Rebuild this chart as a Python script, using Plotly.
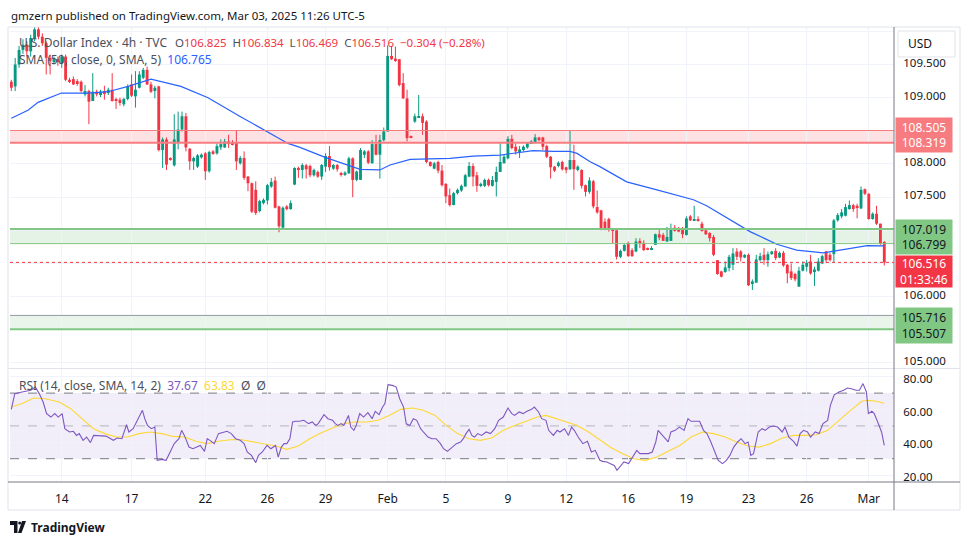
import plotly.graph_objects as go

# ---------------- data ----------------
opens = [109.24,109.17,109.50,109.72,109.80,109.70,109.90,110.03,109.92,109.82,
         109.60,109.55,109.58,109.52,109.62,109.27,109.28,109.25,109.24,109.05,
         109.10,108.95,109.09,109.04,109.10,109.07,109.12,108.98,108.97,108.90,
         108.98,109.20,109.02,109.15,109.30,109.42,109.20,109.10,109.17,108.21,
         108.37,108.09,107.98,108.32,108.52,108.72,108.23,108.04,107.96,108.10,
         108.16,107.89,108.19,108.16,108.25,108.25,108.34,108.33,108.33,108.01,
         108.09,107.81,107.71,107.61,107.29,107.41,107.45,107.66,107.75,107.36,
         107.04,107.36,107.32,107.69,107.94,107.91,107.98,107.97,107.83,107.88,
         107.81,107.96,108.12,107.93,107.985,107.86,107.835,107.86,108.085,107.76,
         107.76,108.14,108.19,108.01,108.30,108.14,108.36,108.49,109.63,109.59,
         109.58,109.22,108.99,108.42,108.64,108.70,108.72,108.64,108.03,107.93,
         108.03,107.90,107.70,107.53,107.38,107.56,107.60,107.66,107.81,107.97,
         107.83,107.67,107.67,107.76,107.67,107.73,107.88,108.01,108.085,108.38,
         108.26,108.19,108.21,108.25,108.31,108.32,108.40,108.40,108.27,108.11,
         107.96,107.97,108.03,107.95,107.92,108.06,107.91,107.91,107.68,107.58,
         107.74,107.35,107.30,107.13,107.17,107.01,107.00,106.60,106.69,106.81,
         106.70,106.68,106.84,106.81,106.73,106.71,106.78,106.94,106.93,106.83,
         106.84,107.04,107.03,107.01,106.93,107.21,107.15,107.16,107.10,107.00,
         106.96,106.90,106.55,106.38,106.37,106.43,106.48,106.68,106.68,106.59,
         106.63,106.19,106.21,106.55,106.63,106.55,106.64,106.69,106.59,106.66,
         106.48,106.38,106.34,106.15,106.39,106.45,106.53,106.37,106.39,106.50,
         106.68,106.63,106.64,107.15,107.21,107.22,107.32,107.38,107.37,107.33,
         107.62,107.55,107.17,107.25,107.10,106.825]
highs = [109.27,109.60,109.78,109.88,109.85,109.95,110.08,110.10,109.97,109.85,
         109.65,109.62,109.62,109.65,109.65,109.30,109.32,109.28,109.26,109.19,
         109.12,109.37,109.12,109.12,109.18,109.15,109.37,109.00,109.00,109.00,
         109.20,109.35,109.40,109.40,109.45,109.47,109.24,109.18,109.18,108.40,
         108.40,108.10,108.75,108.79,108.79,108.77,108.24,108.11,108.15,108.16,
         108.18,108.20,108.21,108.31,108.37,108.38,108.44,108.36,108.50,108.12,
         108.19,107.82,107.72,107.74,107.46,107.48,107.70,107.79,107.81,107.37,
         107.36,107.38,107.45,107.95,107.96,108.01,108.00,107.99,107.93,107.90,
         108.00,108.16,108.27,108.00,108.00,107.88,107.89,108.11,108.10,107.90,
         108.24,108.21,108.21,108.36,108.44,108.44,108.55,109.79,109.78,109.77,
         109.58,109.37,109.12,108.43,108.76,109.04,108.76,108.66,108.04,108.03,
         108.05,107.985,107.71,107.63,107.58,107.63,107.69,107.85,108.03,108.01,
         107.88,107.72,107.78,107.78,107.82,107.96,108.31,108.14,108.42,108.44,
         108.31,108.27,108.28,108.33,108.36,108.45,108.41,108.41,108.29,108.12,
         107.97,108.04,108.05,107.96,108.51,108.29,107.98,107.92,107.69,107.80,
         107.76,107.60,107.31,107.18,107.19,107.03,107.00,106.71,106.79,106.83,
         106.73,106.88,106.88,106.85,106.74,106.76,106.95,107.03,106.96,107.05,
         107.10,107.08,107.05,107.05,107.21,107.23,107.37,107.21,107.13,107.03,
         106.97,106.93,106.55,106.39,106.53,106.63,106.73,106.73,106.70,106.64,
         106.65,106.26,106.63,106.66,106.73,106.68,106.69,106.73,106.68,106.69,
         106.49,106.50,106.36,106.45,106.53,106.55,106.63,106.45,106.58,106.63,
         106.69,106.66,107.17,107.26,107.32,107.40,107.45,107.40,107.40,107.66,
         107.63,107.56,107.27,107.37,107.10,106.834]
lows = [109.10,109.10,109.45,109.66,109.62,109.62,109.85,109.88,109.78,109.35,
        109.35,109.50,109.48,109.45,109.25,109.22,109.19,109.18,109.08,109.02,
        108.60,108.95,109.02,109.01,108.97,109.04,108.94,108.83,108.88,108.87,
        108.96,109.01,108.85,109.14,109.28,109.19,109.07,108.99,108.19,107.94,
        107.91,108.05,107.96,108.22,108.49,108.19,107.91,107.91,107.94,108.08,
        107.76,107.87,108.14,108.14,108.21,108.24,108.24,108.28,107.91,107.99,
        107.76,107.59,107.26,107.23,107.27,107.39,107.39,107.64,107.33,106.97,
        107.02,107.30,107.31,107.68,107.79,107.78,107.78,107.80,107.81,107.79,
        107.76,107.88,107.90,107.91,107.885,107.81,107.82,107.85,107.50,107.74,
        107.76,108.09,108.00,108.01,108.13,107.78,108.34,108.49,109.57,109.54,
        109.17,108.98,108.34,108.39,108.62,108.70,108.44,108.01,107.96,107.92,
        107.86,107.66,107.41,107.36,107.38,107.54,107.58,107.66,107.80,107.66,
        107.58,107.65,107.65,107.66,107.66,107.51,107.88,108.01,108.07,108.22,
        108.14,108.09,108.19,108.23,108.30,108.31,108.34,108.21,108.09,107.78,
        107.88,107.95,107.90,107.86,107.91,107.61,107.89,107.63,107.51,107.55,
        107.33,107.25,107.00,107.00,106.98,106.80,106.56,106.58,106.68,106.60,
        106.60,106.67,106.73,106.69,106.70,106.70,106.78,106.85,106.84,106.83,
        106.84,106.98,106.97,106.88,106.92,107.14,107.14,107.13,106.98,106.93,
        106.83,106.61,106.33,106.29,106.36,106.38,106.40,106.55,106.53,106.58,
        106.16,106.10,106.21,106.53,106.48,106.45,106.63,106.55,106.58,106.45,
        106.20,106.25,106.23,106.15,106.38,106.38,106.33,106.16,106.38,106.49,
        106.51,106.53,106.51,107.13,107.18,107.21,107.31,107.28,107.18,107.32,
        107.53,107.16,107.16,107.08,106.78,106.469]
closes = [109.15,109.50,109.72,109.80,109.70,109.90,110.03,109.92,109.82,109.60,
          109.55,109.58,109.55,109.62,109.27,109.25,109.20,109.22,109.10,109.10,
          108.94,109.09,109.05,109.09,109.07,109.12,108.95,108.95,108.92,108.98,
          109.17,109.03,109.12,109.35,109.42,109.20,109.09,109.15,108.21,108.37,
          107.99,108.07,108.37,108.52,108.72,108.25,108.04,108.09,108.13,108.14,
          107.89,108.18,108.16,108.27,108.30,108.34,108.30,108.30,108.04,108.09,
          107.79,107.71,107.28,107.26,107.44,107.46,107.68,107.73,107.34,107.06,
          107.34,107.32,107.41,107.94,107.91,107.985,107.92,107.83,107.91,107.81,
          107.985,108.12,107.95,107.985,107.92,107.835,107.87,108.085,107.76,107.885,
          108.21,108.19,108.02,108.30,108.14,108.36,108.49,109.63,109.58,109.56,
          109.19,108.99,108.39,108.40,108.72,108.72,108.62,108.03,107.97,108.01,
          107.90,107.68,107.51,107.38,107.56,107.61,107.67,107.83,107.97,107.81,
          107.67,107.70,107.76,107.68,107.76,107.88,108.03,108.11,108.38,108.24,
          108.19,108.22,108.26,108.31,108.34,108.40,108.36,108.26,108.11,107.95,
          107.90,108.02,107.92,107.92,108.06,107.92,107.96,107.67,107.58,107.75,
          107.36,107.27,107.03,107.03,107.01,106.99,106.60,106.69,106.78,106.61,
          106.61,106.83,106.80,106.70,106.71,106.73,106.94,106.89,106.84,106.90,
          107.03,106.99,106.98,106.94,107.18,107.15,107.16,107.14,106.99,106.94,
          106.88,106.63,106.34,106.30,106.44,106.60,106.65,106.60,106.59,106.63,
          106.17,106.23,106.56,106.61,106.55,106.64,106.68,106.58,106.66,106.47,
          106.35,106.28,106.26,106.39,106.48,106.51,106.35,106.41,106.53,106.61,
          106.55,106.55,107.15,107.23,107.27,107.35,107.38,107.32,107.35,107.61,
          107.55,107.17,107.25,107.10,106.80,106.516]

tick_idx = [13, 31, 50, 66, 81, 97, 112, 128, 143, 159, 174, 190, 205, 221]
tick_text = ["14", "17", "22", "26", "29", "Feb", "5", "9", "12", "16", "19", "23", "26", "Mar"]

sma_x = [0, 4.3, 6.9, 12.9, 19.8, 24.9, 30.1, 36, 43.7, 50.7, 59.2, 65.4, 71.3, 74.4, 80.9,
         89.9, 95, 97.6, 102.8, 113.1, 119, 126, 134.5, 139.6, 144, 145.8, 149.2, 151.7,
         158.6, 166.4, 175.8, 179.2, 185.2, 190.4, 197.3, 202.4, 209.3, 216.2, 220.6, 225]
sma_y = [108.69, 108.81, 108.93, 109.07, 109.07, 109.09, 109.17, 109.28, 109.17, 109.0,
         108.71, 108.50, 108.31, 108.25, 108.10, 107.92, 107.91, 107.985, 108.07, 108.085,
         108.12, 108.135, 108.20, 108.19, 108.19, 108.16, 108.035, 107.96, 107.73, 107.61,
         107.46, 107.37, 107.16, 106.98, 106.79, 106.70, 106.66, 106.73, 106.77, 106.765]

rsi_x = [0, 0.9, 2.8, 5.0, 6.2, 7.2, 8.2, 9.1, 10.2, 11.2, 12.1, 13.1, 13.8, 15.0, 16.0, 16.8,
         17.5, 18.5, 19.4, 20.4, 21.2, 22.3, 23.4, 24.4, 25.3, 26.3, 27.3, 28.5, 29.7, 30.3,
         31.4, 32.6, 33.8, 34.4, 35.1, 36.1, 37.0, 37.6, 38.8, 39.9, 41.0, 42.0, 43.2, 43.9,
         44.6, 45.8, 46.8, 47.9, 48.7, 49.8, 50.5, 51.2, 52.3, 53.4, 54.6, 55.6, 56.7, 57.8,
         59.0, 60.0, 60.8, 61.9, 63.0, 63.7, 64.7, 65.9, 66.9, 68.1, 68.8, 69.6, 70.3, 71.0,
         71.8, 72.5, 73.2, 74.3, 75.4, 76.6, 77.6, 78.4, 79.1, 80.6, 81.6, 82.8, 83.5, 84.2,
         85.0, 85.7, 86.9, 87.5, 88.3, 88.9, 89.8, 90.8, 91.9, 93.0, 93.8, 94.8, 95.7, 96.3,
         97.1, 98.2, 99.2, 100.1, 101.1, 101.8, 102.7, 103.6, 104.5, 105.5, 106.2, 107.4,
         108.4, 109.5, 110.6, 111.4, 112.4, 113.6, 114.7, 115.8, 116.5, 117.2, 118.0, 118.7,
         119.4, 120.2, 121.2, 122.4, 123.5, 124.6, 125.6, 126.8, 128.0, 129.0, 129.7, 130.9,
         131.9, 132.9, 134.1, 134.8, 135.9, 136.7, 137.8, 138.5, 139.7, 140.7, 141.4, 142.6,
         143.6, 144.4, 145.1, 146.1, 147.3, 148.5, 149.5, 150.5, 151.7, 152.4, 153.5, 154.4,
         155.4, 156.1, 156.9, 157.9, 159.1, 160.2, 161.2, 162.0, 163.2, 164.2, 165.2, 166.1,
         166.7, 167.5, 168.6, 169.3, 170.0, 171.1, 172.2, 173.4, 174.4, 175.2, 176.6, 177.4,
         178.4, 179.3, 180.3, 181.3, 182.2, 183.3, 184.3, 185.2, 186.2, 187.2, 188.1, 189.1,
         189.9, 190.6, 191.3, 192.5, 193.5, 194.3, 195.4, 196.5, 197.5, 198.7, 199.4, 200.4,
         201.6, 202.5, 203.3, 204.2, 205.2, 206.0, 207.2, 208.2, 209.2, 210.4, 211.1, 212.1,
         213.3, 214.5, 215.5, 216.5, 217.7, 218.6, 219.5, 220.4, 220.9, 221.8, 222.4, 223.3,
         224.3, 225.0]
rsi_y = [60.1, 69.7, 70.7, 71.7, 73.7, 69.7, 64.6, 57.5, 55.4, 57.5, 55.4, 57.5, 48.3, 46.3,
         46.7, 44.2, 45.3, 41.2, 43.2, 39.8, 44.2, 44.2, 44.2, 43.8, 42.6, 41.2, 42.6, 42.2,
         50.7, 46.3, 48.3, 54.4, 59.5, 54.4, 50.3, 48.3, 49.3, 29.0, 29.6, 29.0, 34.1, 39.2,
         42.2, 47.3, 44.2, 37.1, 36.1, 37.1, 38.1, 34.5, 42.2, 41.2, 39.2, 45.3, 46.3, 46.7,
         45.3, 42.2, 41.2, 39.2, 34.1, 32.0, 27.6, 32.0, 34.1, 38.1, 36.1, 38.1, 31.0, 37.1,
         39.2, 39.2, 42.2, 52.4, 52.8, 52.8, 53.4, 51.4, 52.4, 50.3, 51.4, 56.9, 54.4, 53.4,
         51.4, 50.3, 51.4, 50.3, 56.4, 49.3, 47.3, 50.3, 57.5, 55.4, 58.1, 54.4, 58.9, 56.9,
         61.5, 63.6, 75.1, 74.7, 73.7, 66.6, 61.5, 51.3, 50.3, 54.4, 53.4, 48.3, 46.3, 43.2,
         42.2, 42.2, 39.2, 36.1, 34.5, 37.1, 39.2, 40.2, 42.2, 45.3, 47.9, 44.2, 43.2, 45.3,
         44.2, 46.3, 45.3, 48.3, 53.4, 55.4, 60.9, 57.5, 56.4, 58.5, 57.5, 58.9, 60.1, 61.5,
         58.5, 54.4, 53.4, 47.3, 44.2, 47.3, 46.3, 48.3, 44.2, 49.3, 47.3, 43.2, 39.2, 40.6,
         34.1, 35.1, 29.0, 28.4, 28.0, 27.0, 25.9, 22.9, 24.9, 28.0, 27.0, 31.0, 35.1, 33.1,
         33.1, 33.1, 34.1, 40.2, 47.3, 45.3, 42.2, 40.2, 46.3, 47.3, 49.3, 47.3, 54.4, 52.8,
         52.8, 52.8, 47.3, 45.3, 40.2, 34.1, 29.0, 27.0, 29.0, 32.0, 37.1, 40.2, 42.2, 39.2,
         40.2, 32.0, 33.1, 46.3, 48.3, 47.3, 49.3, 49.9, 49.3, 46.3, 49.3, 43.2, 40.6, 37.7,
         45.3, 47.3, 46.3, 43.2, 46.3, 45.3, 51.4, 53.4, 62.5, 69.0, 70.7, 71.7, 73.1, 72.7,
         71.7, 71.7, 75.8, 70.7, 57.5, 58.9, 57.5, 52.4, 46.3, 38.1]

rsima_x = [0, 2.8, 5.75, 8.7, 12.35, 15.3, 18.2, 21.2, 24.1, 27.0, 30.0, 32.9, 35.8, 38.8,
           41.7, 44.6, 47.6, 50.5, 53.4, 56.4, 59.3, 62.2, 65.2, 68.1, 71.0, 74.0, 76.9,
           79.8, 82.8, 85.7, 88.6, 91.6, 94.5, 97.4, 100.4, 103.3, 106.2, 109.2, 112.1,
           115.0, 118.0, 120.9, 123.8, 126.8, 129.7, 132.6, 135.6, 137.8, 140.0, 142.9,
           145.9, 148.8, 151.7, 154.7, 157.6, 160.5, 163.4, 166.4, 169.3, 172.3, 175.2,
           178.1, 181.0, 184.0, 186.9, 189.9, 192.8, 195.7, 198.7, 201.6, 204.5, 207.5,
           210.4, 213.3, 216.3, 219.2, 220.7, 222.9, 225.0]
rsima_y = [61.5, 63.6, 67.0, 66.6, 64.6, 60.5, 54.4, 48.3, 45.3, 43.2, 43.2, 45.3, 46.3,
           45.3, 43.6, 43.2, 40.6, 39.2, 40.6, 41.6, 41.6, 40.2, 39.2, 37.7, 35.7, 37.7,
           42.2, 45.7, 48.7, 51.4, 52.4, 52.4, 53.4, 56.4, 60.1, 60.9, 59.5, 56.4, 50.3,
           45.3, 42.2, 41.2, 42.6, 47.3, 50.3, 52.8, 55.4, 56.4, 54.8, 52.4, 50.3, 46.3,
           41.2, 36.5, 33.1, 30.0, 29.0, 31.0, 34.5, 38.1, 43.2, 46.3, 45.3, 43.2, 40.2,
           37.7, 37.1, 39.2, 42.6, 44.2, 44.2, 44.6, 47.3, 53.4, 59.5, 65.0, 65.6, 65.0, 63.83]

red_zone = (108.319, 108.505)
green_zone = (106.799, 107.019)
low_zone = (105.507, 105.716)
last_price = 106.516
price_ticks = [105.0, 105.5, 106.0, 106.5, 107.0, 107.5, 108.0, 108.5, 109.0, 109.5, 110.0]
price_tick_text = ["105.000", "", "106.000", "", "", "107.500", "108.000", "", "109.000", "109.500", ""]
rsi_ticks = [20, 40, 60, 80]
rsi_tick_text = ["20.00", "40.00", "60.00", "80.00"]

# ---------------- styling / geometry ----------------
W, H = 970, 545
L, R, T, B = 10, 894, 27, 482
UP, DOWN = "#089981", "#f23645"
FONT = "Noto Sans"
TXT = "#131722"
GRID = "#f0f3fa"


def px(x):
    return (x - L) / (R - L)


def py(y):
    return (B - y) / (B - T)


n = len(opens)
idx = list(range(n))
base = [min(o, c) for o, c in zip(opens, closes)]
height = [max(abs(c - o), 0.012) for o, c in zip(opens, closes)]
colors = [UP if c >= o else DOWN for o, c in zip(opens, closes)]

fig = go.Figure()

for col in (UP, DOWN):
    wx, wy = [], []
    for i in idx:
        if colors[i] == col:
            wx += [i, i, None]
            wy += [lows[i], highs[i], None]
    fig.add_trace(go.Scatter(x=wx, y=wy, mode="lines", line=dict(color=col, width=1),
                             hoverinfo="skip", xaxis="x", yaxis="y"))

fig.add_trace(go.Bar(x=idx, y=height, base=base, marker=dict(color=colors, line=dict(width=0)),
                     width=0.74, xaxis="x", yaxis="y", hoverinfo="skip"))

fig.add_trace(go.Scatter(x=sma_x, y=sma_y, mode="lines", line=dict(color="#2962ff", width=1.2),
                         xaxis="x", yaxis="y", hoverinfo="skip"))

fig.add_trace(go.Scatter(x=rsima_x, y=rsima_y, mode="lines", line=dict(color="#fdd835", width=1.1),
                         xaxis="x2", yaxis="y2", hoverinfo="skip"))
fig.add_trace(go.Scatter(x=rsi_x, y=rsi_y, mode="lines", line=dict(color="#7e57c2", width=1.1),
                         xaxis="x2", yaxis="y2", hoverinfo="skip"))

shapes = []
# zones
shapes.append(dict(type="rect", xref="paper", yref="y", x0=0, x1=1, y0=red_zone[0], y1=red_zone[1],
                   fillcolor="rgba(242,54,69,0.15)", line=dict(width=0), layer="below"))
shapes.append(dict(type="line", xref="paper", yref="y", x0=0, x1=1, y0=red_zone[1], y1=red_zone[1],
                   line=dict(color="#f77c80", width=1)))
shapes.append(dict(type="line", xref="paper", yref="y", x0=0, x1=1, y0=red_zone[0], y1=red_zone[0],
                   line=dict(color="#f77c80", width=2)))
shapes.append(dict(type="rect", xref="paper", yref="y", x0=0, x1=1, y0=green_zone[0], y1=green_zone[1],
                   fillcolor="rgba(76,175,80,0.15)", line=dict(width=0), layer="below"))
shapes.append(dict(type="line", xref="paper", yref="y", x0=0, x1=1, y0=green_zone[1], y1=green_zone[1],
                   line=dict(color="#81c784", width=2)))
shapes.append(dict(type="line", xref="paper", yref="y", x0=0, x1=1, y0=green_zone[0], y1=green_zone[0],
                   line=dict(color="#81c784", width=1)))
shapes.append(dict(type="rect", xref="paper", yref="y", x0=0, x1=1, y0=low_zone[0], y1=low_zone[1],
                   fillcolor="rgba(76,175,80,0.12)", line=dict(width=0), layer="below"))
shapes.append(dict(type="line", xref="paper", yref="y", x0=0, x1=1, y0=low_zone[1], y1=low_zone[1],
                   line=dict(color="#9598a1", width=1)))
shapes.append(dict(type="line", xref="paper", yref="y", x0=0, x1=1, y0=low_zone[0], y1=low_zone[0],
                   line=dict(color="#81c784", width=2)))
# last price dotted line
shapes.append(dict(type="line", xref="paper", yref="y", x0=0, x1=1, y0=last_price, y1=last_price,
                   line=dict(color="#f23645", width=1, dash="dot")))
# RSI band
shapes.append(dict(type="rect", xref="paper", yref="y2", x0=0, x1=1, y0=30, y1=70,
                   fillcolor="rgba(126,87,194,0.1)", line=dict(width=0), layer="below"))
for lv, c in ((70, "#787b86"), (30, "#787b86"), (50, "rgba(120,123,134,0.5)")):
    shapes.append(dict(type="line", xref="paper", yref="y2", x0=0, x1=1, y0=lv, y1=lv,
                       line=dict(color=c, width=1, dash="dash"), layer="below"))
# frame
shapes.append(dict(type="rect", xref="paper", yref="paper", x0=px(8), x1=px(960), y0=py(510), y1=py(27),
                   line=dict(color="#e0e3eb", width=1)))
shapes.append(dict(type="line", xref="paper", yref="paper", x0=px(8), x1=px(960), y0=py(368.5), y1=py(368.5),
                   line=dict(color="#e0e3eb", width=1)))
shapes.append(dict(type="line", xref="paper", yref="paper", x0=px(8), x1=px(960), y0=py(482), y1=py(482),
                   line=dict(color="#787b86", width=1)))
shapes.append(dict(type="line", xref="paper", yref="paper", x0=px(894), x1=px(894), y0=py(510), y1=py(27),
                   line=dict(color="#787b86", width=1)))
# USD box
shapes.append(dict(type="rect", xref="paper", yref="paper", x0=px(898), x1=px(955), y0=py(57), y1=py(31),
                   line=dict(color="#e0e3eb", width=1), fillcolor="white"))
# TradingView logo glyph
shapes.append(dict(type="path", xref="paper", yref="paper",
                   path=f"M {px(10)} {py(521)} L {px(17.5)} {py(521)} L {px(17.5)} {py(533)} L {px(14)} {py(533)} L {px(14)} {py(525)} L {px(10)} {py(525)} Z",
                   fillcolor=TXT, line=dict(width=0)))
shapes.append(dict(type="circle", xref="paper", yref="paper", x0=px(18.2), x1=px(21.2), y0=py(524.5), y1=py(521.5),
                   fillcolor=TXT, line=dict(width=0)))
shapes.append(dict(type="path", xref="paper", yref="paper",
                   path=f"M {px(22)} {py(521)} L {px(26)} {py(521)} L {px(21.5)} {py(533)} L {px(18)} {py(533)} Z",
                   fillcolor=TXT, line=dict(width=0)))

ann = []


def text(x, y, s, color=TXT, size=12, anchor="left", family=FONT):
    ann.append(dict(xref="paper", yref="paper", x=px(x), y=py(y), text=s, showarrow=False,
                    xanchor=anchor, yanchor="middle", borderpad=0,
                    font=dict(family=family, size=size, color=color)))


def span(s, c):
    return f"<span style='color:{c}'>{s}</span>"


GREY = "#4b4f5c"
RED = "#f23645"
text(10, 15, "gmzern published on TradingView.com, Mar 03, 2025 11:26 UTC-5", size=11.5)
text(907, 44, "USD", size=12)
text(18, 42, "U.S. Dollar Index · 4h · TVC", GREY, 12)
text(174, 42, "O" + span("106.825", RED) + "  H" + span("106.834", RED) + "  L" + span("106.469", RED)
     + "  C" + span("106.516", RED) + "  " + span("−0.304 (−0.28%)", RED), GREY, 11.5)
text(18, 60, "SMA (50, close, 0, SMA, 5)  " + span("106.765", "#2962ff"), GREY, 12)
text(18, 385, "RSI (14, close, SMA, 14, 2)  " + span("37.67", "#7e57c2") + "  " + span("63.83", "#fdd835")
     + "  Ø  Ø", GREY, 12)
text(30, 527, "<b>TradingView</b>", TXT, 12)


def label(y_center, s, bg, fg, h):
    ann.append(dict(xref="paper", yref="paper", x=px(895), y=py(y_center), text=s, showarrow=False,
                    xanchor="left", yanchor="middle", align="center", width=56, height=h,
                    bgcolor=bg, borderpad=0, font=dict(family=FONT, size=12, color=fg)))


label(135, f"{red_zone[1]:.3f}<br>{red_zone[0]:.3f}", "#f77c80", "white", 34)
label(236.5, f"{green_zone[1]:.3f}<br>{green_zone[0]:.3f}", "#81c784", TXT, 34)
label(271.5, f"{last_price:.3f}<br>01:33:46", "#f23645", "white", 31)
label(325.5, f"{low_zone[1]:.3f}<br>{low_zone[0]:.3f}", "#81c784", TXT, 35)

fig.update_layout(
    width=W, height=H, margin=dict(l=L, r=W - R, t=T, b=H - B),
    paper_bgcolor="white", plot_bgcolor="white", showlegend=False, barmode="overlay",
    hovermode=False,
    xaxis=dict(domain=[0, 1], anchor="y", range=[-0.335, 227.5], tickvals=tick_idx,
               showticklabels=False, showgrid=True, gridcolor=GRID, zeroline=False, showline=False),
    xaxis2=dict(domain=[0, 1], anchor="y2", matches="x", range=[-0.335, 227.5], tickvals=tick_idx,
                ticktext=tick_text, showgrid=True, gridcolor=GRID, zeroline=False, showline=False,
                ticks="outside", ticklen=6, tickcolor="rgba(0,0,0,0)",
                tickfont=dict(family=FONT, size=12, color=TXT)),
    yaxis=dict(domain=[(B - 368) / (B - T), 1], range=[104.923, 110.066], side="right",
               tickvals=price_ticks, ticktext=price_tick_text, showgrid=True, gridcolor=GRID,
               zeroline=False, showline=False, ticks="outside", ticklen=6, tickcolor="rgba(0,0,0,0)",
               ticklabelshift=-2, tickfont=dict(family=FONT, size=11.5, color=TXT)),
    yaxis2=dict(domain=[0, (B - 369) / (B - T)], range=[15.8, 84.7], side="right",
                tickvals=rsi_ticks, ticktext=rsi_tick_text, showgrid=True, gridcolor=GRID,
                zeroline=False, showline=False, ticks="outside", ticklen=6, tickcolor="rgba(0,0,0,0)",
                ticklabelshift=2, tickfont=dict(family=FONT, size=11.5, color=TXT)),
    shapes=shapes, annotations=ann,
)

fig.write_html("out.html", config={"displayModeBar": False},
               post_script="document.body.style.margin='0';document.body.style.overflow='hidden';")
